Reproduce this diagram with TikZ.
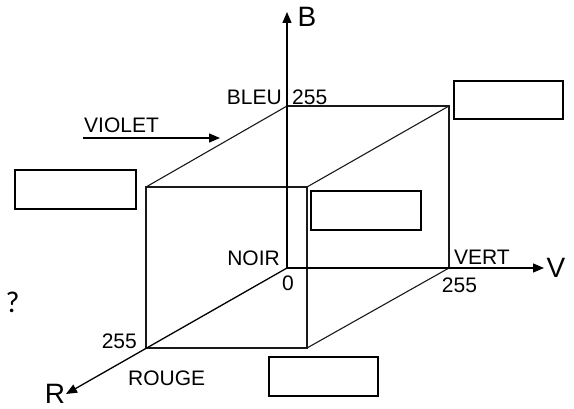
\documentclass[tikz,border=0pt]{standalone}
\usepackage{fontspec}
\setmainfont{Liberation Sans}
\newfontfamily\qfont{Carlito}
\usetikzlibrary{arrows.meta}
\begin{document}
\begin{tikzpicture}[x=1pt,y=-1pt,
  edge/.style={line width=1.1pt, draw=black!90},
  axis/.style={line width=1.3pt, draw=black, -{Triangle[length=11pt,width=9pt]}},
  blank/.style={draw, line width=1.4pt, inner sep=0pt},
  lbl/.style={font=\fontsize{21}{25}\selectfont, inner sep=0pt, text=black},
  big/.style={font=\fontsize{28}{32}\selectfont, inner sep=0pt}]
\useasboundingbox (0,0) rectangle (574,409);
% back face
\coordinate (O) at (287,268);
\coordinate (Bb) at (287,106);
\coordinate (BV) at (449,106);
\coordinate (Vv) at (449,268);
% front face
\coordinate (Rr) at (146,348);
\coordinate (RB) at (146,187);
\coordinate (W) at (307,187);
\coordinate (RV) at (307,348);
% axis ends
\coordinate (Btip) at (287,12);
\coordinate (Vtip) at (544,268);
\coordinate (Rtip) at (66,394);
% cube edges
\draw[edge] (Bb) -- (BV) -- (Vv);
\draw[edge] (RB) -- (W) -- (RV) -- (Rr) -- cycle;
\draw[edge] (RB) -- (Bb);
\draw[edge] (W) -- (BV);
\draw[edge] (RV) -- (Vv);
% axes
\draw[axis] (O) -- (Btip);
\draw[axis] (O) -- (Vtip);
\draw[axis] (O) -- (Rtip);
% violet arrow
\coordinate (vs) at (83,138);
\coordinate (vt) at (220,138);
\draw[axis] (vs) -- (vt);
% blank boxes
\node[blank, minimum width=109pt, minimum height=38pt] (box1) at (508.5,100) {};
\node[blank, minimum width=121pt, minimum height=39pt] (box2) at (75.5,189.5) {};
\node[blank, minimum width=110pt, minimum height=39pt] (box3) at (366,210.5) {};
\node[blank, minimum width=109pt, minimum height=39pt] (box4) at (323.5,376.5) {};
% labels
\node[big] (lB) at (307,17) {B};
\node[big] (lV) at (556,268) {V};
\node[big] (lR) at (55,393.5) {R};
\node[lbl, anchor=east] (bleu) at (282,97) {BLEU};
\node[lbl, anchor=west] (b255) at (292,97) {255};
\node[lbl, anchor=west] (violet) at (84,125.5) {VIOLET};
\node[lbl, anchor=east] (noir) at (280,258) {NOIR};
\node[lbl] (zero) at (288,283) {0};
\node[lbl, anchor=west] (vert) at (454,257) {VERT};
\node[lbl] (v255) at (459.5,285) {255};
\node[lbl, anchor=east] (r255) at (137,341.5) {255};
\node[lbl, anchor=west] (rouge) at (128,378) {ROUGE};
\node[inner sep=0pt, font=\qfont\fontsize{30}{34}\selectfont] (q) at (12.5,302.5) {?};
\end{tikzpicture}
\end{document}
